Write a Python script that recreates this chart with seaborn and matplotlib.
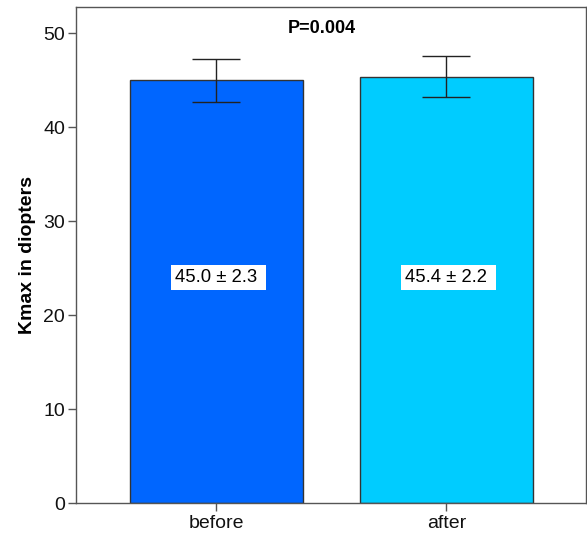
import matplotlib
matplotlib.use("Agg")
import matplotlib.pyplot as plt
import seaborn as sns
import pandas as pd

# Kmax before and after treatment (mean ± SD)
groups = ["before", "after"]
means = [45.0, 45.4]
sds = [2.3, 2.2]
bar_colors = ["#0066FF", "#00CCFF"]
p_text = "P=0.004"

sns.set_theme(style="white")
plt.rcParams["font.family"] = ["Liberation Sans", "DejaVu Sans"]

df = pd.DataFrame({"group": groups, "kmax": means, "sd": sds})

fig = plt.figure(figsize=(5.87, 5.35), dpi=100)
ax = fig.add_axes([76 / 587, 32 / 535, 510 / 587, 496 / 535])

sns.barplot(data=df, x="group", y="kmax", hue="group", palette=bar_colors,
            saturation=1, width=0.75, edgecolor="#333333", linewidth=1.0,
            errorbar=None, legend=False, ax=ax)

ax.errorbar(range(len(groups)), df["kmax"], yerr=df["sd"], fmt="none",
            ecolor="#222222", elinewidth=1.0, capsize=17, capthick=1.0)

# mean ± SD label inside each bar, on a white box
for i, (m, s) in enumerate(zip(means, sds)):
    ax.text(i + 0.01, 24.0, f"{m:.1f} ± {s:.1f} ", ha="center", va="center",
            fontsize=13.3, color="black",
            bbox=dict(facecolor="white", edgecolor="none", pad=2.8))

ax.text(0.46, 50.5, p_text, ha="center", va="center", fontsize=13,
        fontweight="bold", color="black")

ax.set_xlim(-0.611, 1.607)
ax.set_ylim(0, 52.8)
ax.set_yticks([0, 10, 20, 30, 40, 50])
ax.set_xlabel("")
ax.set_ylabel("Kmax in diopters", fontsize=14, fontweight="bold",
              labelpad=5, color="black")

for sp in ax.spines.values():
    sp.set_visible(True)
    sp.set_color("#555555")
    sp.set_linewidth(1.0)

ax.tick_params(axis="both", which="both", direction="out", length=6,
               width=1.0, color="#555555", labelsize=14, labelcolor="#111111",
               left=True, bottom=True, top=False, right=False)
ax.tick_params(axis="x", pad=3)
ax.tick_params(axis="y", pad=2)

fig.savefig("out.png", dpi=100)
